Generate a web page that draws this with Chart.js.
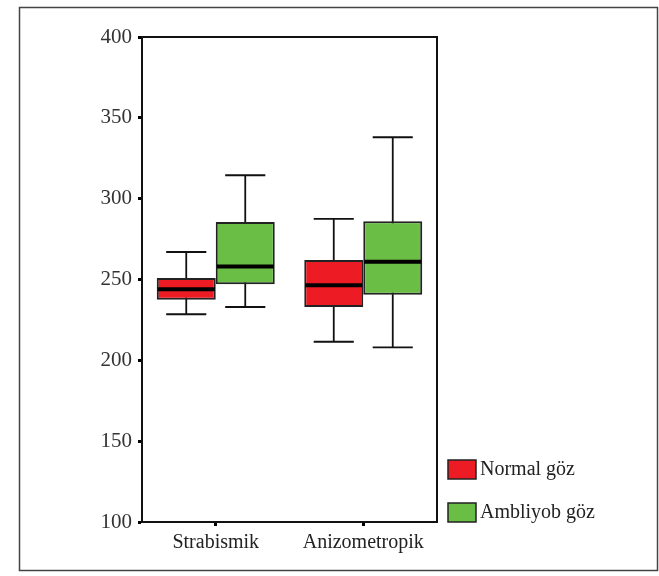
<!DOCTYPE html>
<html>
<head>
<meta charset="utf-8">
<script src="https://cdn.jsdelivr.net/npm/chart.js@4"></script>
<style>
  html, body { margin: 0; padding: 0; background: #fff; }
  #wrap { position: relative; width: 659px; height: 576px; }
</style>
</head>
<body>
<div id="wrap"><canvas id="boxChart" width="659" height="576"></canvas></div>
<script>
// --- DADOS ---
const categorias = ['Strabismik', 'Anizometropik'];
const seriesNomes = ['Normal göz', 'Ambliyob göz'];
const yTicks = [100, 150, 200, 250, 300, 350, 400];

// Normal göz (vermelho)
const normalMin = [228.5, 211.5];
const normalQ1 = [237.5, 233];
const normalMediana = [244, 246.5];
const normalQ3 = [251, 262];
const normalMax = [267, 287.5];

// Ambliyob göz (verde)
const ambliyobMin = [233, 208];
const ambliyobQ1 = [247, 240.5];
const ambliyobMediana = [258, 261];
const ambliyobQ3 = [285.5, 286];
const ambliyobMax = [314.5, 338];

const cores = ['#ed1c24', '#6abd45'];
const fonte = "'Liberation Serif', 'DejaVu Serif', serif";

const caixas = [
    { min: normalMin, med: normalMediana, max: normalMax },
    { min: ambliyobMin, med: ambliyobMediana, max: ambliyobMax }
];

// bigodes e mediana desenhados pelas escalas do próprio gráfico
const boxplotPlugin = {
    id: 'boxplotExtras',
    beforeDatasetsDraw(chart) {
        const ctx = chart.ctx;
        const y = chart.scales.y;
        ctx.save();
        ctx.strokeStyle = '#111';
        ctx.lineWidth = 1.8;
        caixas.forEach((s, i) => {
            chart.getDatasetMeta(i).data.forEach((bar, j) => {
                const cap = bar.width * 0.68 / 2;
                const yMin = y.getPixelForValue(s.min[j]);
                const yMax = y.getPixelForValue(s.max[j]);
                ctx.beginPath();
                ctx.moveTo(bar.x, yMin);
                ctx.lineTo(bar.x, yMax);
                ctx.moveTo(bar.x - cap, yMin);
                ctx.lineTo(bar.x + cap, yMin);
                ctx.moveTo(bar.x - cap, yMax);
                ctx.lineTo(bar.x + cap, yMax);
                ctx.stroke();
            });
        });
        ctx.restore();
    },
    afterDatasetsDraw(chart) {
        const ctx = chart.ctx;
        const y = chart.scales.y;
        ctx.save();
        ctx.strokeStyle = '#000';
        ctx.lineWidth = 4;
        caixas.forEach((s, i) => {
            chart.getDatasetMeta(i).data.forEach((bar, j) => {
                const yMed = y.getPixelForValue(s.med[j]);
                ctx.beginPath();
                ctx.moveTo(bar.x - bar.width / 2 + 1, yMed);
                ctx.lineTo(bar.x + bar.width / 2 - 1, yMed);
                ctx.stroke();
            });
        });
        // moldura da área do gráfico
        const a = chart.chartArea;
        ctx.strokeStyle = '#111';
        ctx.lineWidth = 2;
        ctx.strokeRect(a.left, a.top, a.right - a.left, a.bottom - a.top);
        ctx.restore();
    },
    afterDraw(chart) {
        const ctx = chart.ctx;
        const a = chart.chartArea;
        ctx.save();
        // moldura externa
        ctx.strokeStyle = '#444';
        ctx.lineWidth = 1.5;
        ctx.strokeRect(19.5, 7.5, 638, 563);
        // legenda
        ctx.font = '20px ' + fonte;
        ctx.textBaseline = 'middle';
        seriesNomes.forEach((nome, i) => {
            const bx = a.right + 11;
            const by = a.bottom - 62 + i * 43;
            ctx.fillStyle = cores[i];
            ctx.fillRect(bx, by, 28, 19);
            ctx.strokeStyle = '#222';
            ctx.lineWidth = 1.5;
            ctx.strokeRect(bx, by, 28, 19);
            ctx.fillStyle = '#222';
            ctx.fillText(nome, bx + 32, by + 10);
        });
        ctx.restore();
    }
};

const ctx = document.getElementById('boxChart').getContext('2d');
new Chart(ctx, {
    type: 'bar',
    data: {
        labels: categorias,
        datasets: [
            {
                label: seriesNomes[0],
                data: normalQ1.map((q1, i) => [q1, normalQ3[i]]),
                backgroundColor: cores[0],
                borderColor: '#222',
                borderWidth: 2,
                borderSkipped: false
            },
            {
                label: seriesNomes[1],
                data: ambliyobQ1.map((q1, i) => [q1, ambliyobQ3[i]]),
                backgroundColor: cores[1],
                borderColor: '#222',
                borderWidth: 2,
                borderSkipped: false
            }
        ]
    },
    options: {
        responsive: false,
        animation: false,
        layout: { padding: { top: 37, right: 222, left: 0, bottom: 0 } },
        datasets: { bar: { categoryPercentage: 0.8, barPercentage: 1.0 } },
        plugins: { legend: { display: false }, tooltip: { enabled: false } },
        scales: {
            x: {
                grid: { drawOnChartArea: false, offset: false, tickLength: 4, tickWidth: 3, tickColor: '#000' },
                border: { color: '#111', width: 2 },
                ticks: { font: { family: fonte, size: 20 }, color: '#222', padding: 5 },
                afterFit(scale) { scale.height = 54; }
            },
            y: {
                min: 100,
                max: 400,
                afterBuildTicks(scale) { scale.ticks = yTicks.map(v => ({ value: v })); },
                grid: { drawOnChartArea: false, tickLength: 4, tickWidth: 3, tickColor: '#000' },
                border: { color: '#111', width: 2 },
                ticks: { font: { family: fonte, size: 21 }, color: '#333', padding: 6 },
                afterFit(scale) { scale.width = 142; }
            }
        }
    },
    plugins: [boxplotPlugin]
});
</script>
</body>
</html>
